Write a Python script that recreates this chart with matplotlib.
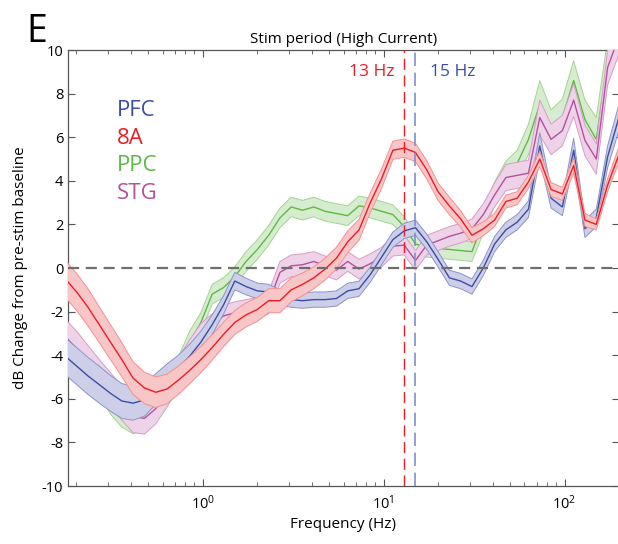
import matplotlib
matplotlib.use("Agg")
import matplotlib.pyplot as plt
from matplotlib.ticker import LogLocator, NullFormatter

plt.rcParams['font.family'] = ['Open Sans', 'DejaVu Sans']
plt.rcParams['axes.unicode_minus'] = False

# frequency grid (Hz)
freqs = [0.174, 0.201, 0.232, 0.268, 0.309, 0.357, 0.412, 0.476, 0.550, 0.635,
         0.733, 0.846, 0.977, 1.128, 1.302, 1.504, 1.736, 2.005, 2.315, 2.672,
         3.085, 3.562, 4.113, 4.749, 5.484, 6.331, 7.311, 8.442, 9.744, 11.25,
         12.99, 15.0, 17.32, 20.0, 23.09, 26.66, 30.79, 35.55, 41.05, 47.40,
         54.73, 63.19, 72.97, 84.26, 97.29, 112.3, 129.7, 149.8, 173.0, 199.7]

# dB change, mean and error band half-width
pfc = [-4.05, -4.5, -4.95, -5.35, -5.75, -6.1, -6.2, -6.05, -5.55, -5.05,
       -4.6, -4.05, -3.4, -2.6, -1.7, -0.6, -0.85, -1.05, -1.1, -1.35,
       -1.45, -1.5, -1.45, -1.45, -1.4, -1.05, -0.95, -0.3, 0.5, 1.3,
       1.7, 1.85, 1.2, 0.4, -0.45, -0.6, -0.85, 0.0, 1.1, 1.75,
       2.1, 2.7, 5.6, 3.2, 2.8, 5.4, 1.8, 2.3, 5.1, 6.9]
pfc_err = [0.85, 0.85, 0.85, 0.85, 0.82, 0.8, 0.78, 0.75, 0.7, 0.65,
           0.6, 0.55, 0.5, 0.45, 0.42, 0.4, 0.38, 0.36, 0.35, 0.35,
           0.35, 0.35, 0.35, 0.35, 0.35, 0.35, 0.35, 0.35, 0.35, 0.35,
           0.35, 0.35, 0.35, 0.35, 0.35, 0.35, 0.35, 0.35, 0.35, 0.35,
           0.35, 0.38, 0.6, 0.45, 0.4, 0.55, 0.4, 0.4, 0.5, 0.6]

a8 = [-0.5, -1.1, -1.8, -2.6, -3.4, -4.2, -5.05, -5.5, -5.7, -5.55,
      -5.15, -4.7, -4.2, -3.65, -3.05, -2.5, -2.15, -1.9, -1.5, -1.5,
      -1.0, -0.75, -0.45, -0.05, 0.45, 1.2, 1.75, 3.0, 4.1, 5.4,
      5.5, 5.3, 4.5, 3.5, 2.85, 2.25, 1.5, 1.8, 2.2, 3.05,
      3.2, 3.95, 5.0, 3.6, 3.4, 4.7, 2.2, 2.0, 3.8, 5.2]
a8_err = [0.85, 0.85, 0.85, 0.82, 0.8, 0.78, 0.75, 0.72, 0.7, 0.68,
          0.65, 0.62, 0.6, 0.58, 0.56, 0.55, 0.55, 0.55, 0.55, 0.55,
          0.55, 0.52, 0.5, 0.5, 0.5, 0.5, 0.48, 0.45, 0.45, 0.42,
          0.42, 0.42, 0.42, 0.4, 0.4, 0.38, 0.35, 0.32, 0.3, 0.3,
          0.3, 0.3, 0.35, 0.32, 0.3, 0.35, 0.3, 0.25, 0.3, 0.35]

ppc = [-3.3, -3.9, -4.6, -5.3, -6.2, -6.8, -7.1, -6.95, -6.4, -5.6,
       -4.6, -3.4, -2.5, -1.2, -0.9, -0.4, 0.3, 0.85, 1.5, 2.3,
       2.8, 2.65, 2.8, 2.6, 2.5, 2.4, 2.85, 2.75, 2.6, 2.45,
       1.9, 1.1, 0.95, 0.9, 0.85, 0.8, 0.75, 2.1, 3.4, 4.3,
       4.8, 5.9, 7.5, 6.4, 6.9, 8.6, 6.8, 5.9, 9.5, 11.0]
ppc_err = [0.5, 0.5, 0.5, 0.5, 0.5, 0.5, 0.5, 0.5, 0.5, 0.5,
           0.5, 0.5, 0.45, 0.45, 0.45, 0.45, 0.45, 0.45, 0.45, 0.45,
           0.45, 0.45, 0.45, 0.45, 0.45, 0.45, 0.45, 0.45, 0.45, 0.45,
           0.45, 0.45, 0.45, 0.45, 0.45, 0.45, 0.45, 0.5, 0.55, 0.6,
           0.6, 0.7, 1.1, 0.85, 0.85, 0.9, 0.9, 1.0, 1.0, 1.0]

stg = [-3.15, -3.7, -4.35, -5.0, -5.6, -6.2, -6.8, -6.9, -6.45, -5.7,
       -4.8, -3.9, -3.1, -2.6, -2.2, -2.05, -1.95, -1.85, -1.6, -0.2,
       0.1, 0.15, 0.3, 0.1, -0.1, 0.3, -0.05, 0.2, 0.5, 1.0,
       1.05, 0.35, 1.05, 1.25, 1.45, 1.6, 1.8, 2.45, 3.35, 4.15,
       4.25, 4.35, 6.9, 5.9, 6.3, 7.7, 5.85, 5.0, 9.2, 10.6]
stg_err = [0.8, 0.8, 0.8, 0.8, 0.8, 0.78, 0.75, 0.72, 0.7, 0.68,
           0.65, 0.6, 0.55, 0.5, 0.5, 0.5, 0.5, 0.5, 0.5, 0.5,
           0.5, 0.5, 0.45, 0.45, 0.45, 0.45, 0.45, 0.45, 0.45, 0.45,
           0.45, 0.45, 0.45, 0.45, 0.45, 0.45, 0.45, 0.5, 0.55, 0.6,
           0.6, 0.6, 0.8, 0.7, 0.7, 0.75, 0.7, 0.7, 0.8, 0.8]

names = ['PFC', '8A', 'PPC', 'STG']
line_c = {'PFC': '#3d4da3', '8A': '#ed1c24', 'PPC': '#5fb946', 'STG': '#b4509f'}
fill_c = {'PFC': '#cdcfe8', '8A': '#f9c6c7', 'PPC': '#d6ecce', 'STG': '#eed3e8'}
edge_c = {'PFC': '#8c94c9', '8A': '#f29090', 'PPC': '#a3d493', 'STG': '#d69dca'}
series = {'PFC': (pfc, pfc_err), '8A': (a8, a8_err), 'PPC': (ppc, ppc_err), 'STG': (stg, stg_err)}
draw_order = ['PPC', 'STG', 'PFC', '8A']

fig = plt.figure(figsize=(6.18, 5.44), dpi=100)
ax = fig.add_axes([68 / 618, 58 / 544, 551 / 618, 436 / 544])

ax.axhline(0, color='#6e6e6e', lw=1.6, ls=(0, (5, 3)), zorder=10)
ax.axvline(13, color='#ed1c24', lw=1.0, ls=(0, (8, 4)), zorder=9)
ax.axvline(15, color='#7f8fc9', lw=1.2, ls=(0, (8, 4)), zorder=9)

for i, name in enumerate(draw_order):
    m, e = series[name]
    lo = [a - b for a, b in zip(m, e)]
    hi = [a + b for a, b in zip(m, e)]
    z = 2 + i
    ax.fill_between(freqs, lo, hi, facecolor=fill_c[name], edgecolor='none', zorder=z)
    ax.plot(freqs, lo, color=edge_c[name], lw=0.7, zorder=z)
    ax.plot(freqs, hi, color=edge_c[name], lw=0.7, zorder=z)
    ax.plot(freqs, m, color=line_c[name], lw=1.0, zorder=z)

ax.set_xscale('log')
ax.set_xlim(0.18, 200)
ax.set_ylim(-10, 10)
ax.set_yticks(range(-10, 11, 2))
ax.xaxis.set_minor_locator(LogLocator(base=10, subs=range(2, 10)))
ax.xaxis.set_minor_formatter(NullFormatter())
ax.tick_params(which='both', direction='in', top=True, right=True, labelsize=10.5,
               color='#555555', labelcolor='black')
ax.tick_params(which='major', length=5)
ax.tick_params(which='minor', length=3)
ax.tick_params(axis='x', pad=6)
for s in ax.spines.values():
    s.set_color('#555555')
    s.set_linewidth(0.9)

ax.set_title('Stim period (High Current)', fontsize=11, pad=5)
ax.set_xlabel('Frequency (Hz)', fontsize=11, labelpad=3)
ax.set_ylabel('dB Change from pre-stim baseline', fontsize=11, labelpad=10)

leg_y = [0.862, 0.798, 0.736, 0.672]
for name, y in zip(names, leg_y):
    ax.text(0.089, y, name, transform=ax.transAxes, color=line_c[name], fontsize=16, va='center', ha='left')

ax.text(0.552, 0.950, '13 Hz', transform=ax.transAxes, color='#ed1c24', fontsize=12.5, ha='center', va='center')
ax.text(0.698, 0.950, '15 Hz', transform=ax.transAxes, color='#3d4da3', fontsize=12.5, ha='center', va='center')

fig.text(0.042, 0.922, 'E', fontsize=27, ha='left', va='baseline')
fig.text(0.045, -0.035, 'C', fontsize=28, ha='left', va='center')

fig.savefig('out.png', dpi=100)
